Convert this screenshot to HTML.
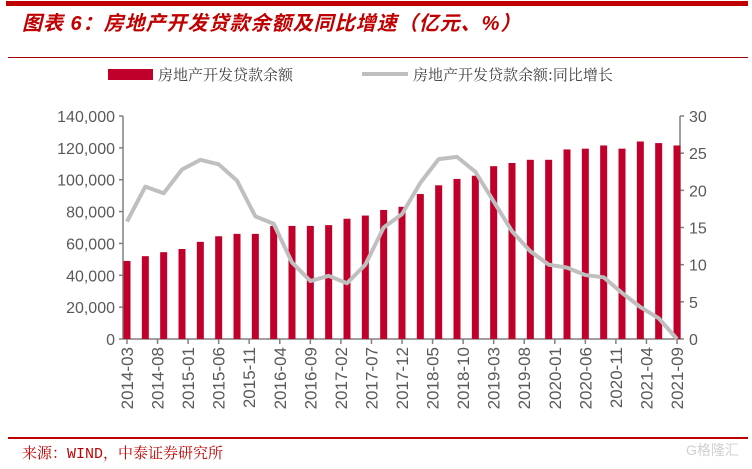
<!DOCTYPE html>
<html><head><meta charset="utf-8"><style>
body{margin:0;background:#fff;}
svg text{font-family:"Liberation Sans","Noto Sans CJK SC",sans-serif;}
</style></head><body>
<svg id="chart" width="752" height="464" viewBox="0 0 752 464" xmlns="http://www.w3.org/2000/svg">
<rect x="6" y="1" width="742" height="5" fill="#c00000"/>
<text x="22" y="30" font-size="20" font-weight="bold" font-style="italic" fill="#c00000" letter-spacing="1" style="font-family:'Liberation Sans','Noto Sans CJK SC',sans-serif">图表 6：房地产开发贷款余额及同比增速（亿元、%）</text>
<rect x="8" y="57" width="740" height="1" fill="#a00000"/>
<rect x="108" y="69" width="45" height="11" fill="#c0002a"/>
<text x="158" y="80" font-size="15" fill="#404040" style="font-family:'Noto Serif CJK SC',serif">房地产开发贷款余额</text>
<rect x="362" y="72" width="46" height="4" fill="#bfbfbf"/>
<text x="413" y="80" font-size="15" fill="#404040" style="font-family:'Noto Serif CJK SC',serif">房地产开发贷款余额:同比增长</text>
<g id="plot"></g>
<rect x="8" y="437" width="740" height="2" fill="#c00000"/>
<text x="22" y="458" font-size="15" fill="#c00000" style="font-family:'Liberation Mono','Noto Serif CJK SC',serif">来源：WIND，中泰证券研究所</text>
<text x="686" y="455" font-size="14" fill="#d0d0d0">G格隆汇</text>
</svg>
<script>
const categories=["2014-03","2014-06","2014-09","2014-12","2015-03","2015-06","2015-09","2015-12","2016-03","2016-06","2016-09","2016-12","2017-03","2017-06","2017-09","2017-12","2018-03","2018-06","2018-09","2018-12","2019-03","2019-06","2019-09","2019-12","2020-03","2020-06","2020-09","2020-12","2021-03","2021-06","2021-09"];
const balance=[49000,52000,54500,56500,61000,64500,66000,66000,71000,71000,71000,71500,75500,77500,81000,83000,91000,96500,100500,102500,108500,110500,112500,112500,119000,119500,121500,119500,124000,123000,121500];
const growth=[15.8,20.5,19.6,22.8,24.1,23.5,21.3,16.5,15.5,10.3,7.8,8.5,7.5,10,15,16.8,21,24.2,24.5,22.5,18.5,14.5,11.8,10,9.6,8.6,8.3,6.2,4.3,2.8,0];
const xLabels=["2014-03","2014-08","2015-01","2015-06","2015-11","2016-04","2016-09","2017-02","2017-07","2017-12","2018-05","2018-10","2019-03","2019-08","2020-01","2020-06","2020-11","2021-04","2021-09"];
const leftTicks=[0,20000,40000,60000,80000,100000,120000,140000];
const rightTicks=[0,5,10,15,20,25,30];
const NS="http://www.w3.org/2000/svg";
const g=document.getElementById('plot');
const X0=127,X1=677,Y0=339,Y1=116,LX=123,RX=680;
const xi=i=>X0+(X1-X0)*i/(categories.length-1);
const yl=v=>Y0-(Y0-Y1)*v/140000;
const yr=v=>Y0-(Y0-Y1)*v/30;
function mk(t,a){const e=document.createElementNS(NS,t);for(const k in a)e.setAttribute(k,a[k]);g.appendChild(e);return e;}
let e=mk('line',{x1:LX,y1:Y1,x2:LX,y2:Y0,stroke:'#808080','stroke-width':1.5});


e=mk('line',{x1:RX,y1:Y1,x2:RX,y2:Y0,stroke:'#808080','stroke-width':1.5});


e=mk('line',{x1:LX,y1:Y0,x2:RX,y2:Y0,stroke:'#808080','stroke-width':1.5});


leftTicks.forEach(v=>{
 mk('line',{x1:LX-4,y1:yl(v),x2:LX,y2:yl(v),stroke:'#808080','stroke-width':1.5});
 const t=mk('text',{x:LX-8,y:yl(v)+6,'font-size':16,'text-anchor':'end',fill:'#595959'});t.textContent=v.toLocaleString('en-US');
 
 
});
rightTicks.forEach(v=>{
 mk('line',{x1:RX,y1:yr(v),x2:RX+4,y2:yr(v),stroke:'#808080','stroke-width':1.5});
 const t=mk('text',{x:RX+9,y:yr(v)+6,'font-size':16,fill:'#595959'});t.textContent=v;
 
 
});
balance.forEach((v,i)=>{
 const r=mk('rect',{x:xi(i)-3.5,y:yl(v),width:7,height:Y0-yl(v),fill:'#c0002a'});
 
 
});
const pts=growth.map((v,i)=>xi(i)+','+yr(v)).join(' ');
const pl=mk('polyline',{points:pts,fill:'none',stroke:'#bfbfbf','stroke-width':4,'stroke-linejoin':'round'});


xLabels.forEach((s,i)=>{
 const x=X0+(X1-X0)*i/(xLabels.length-1);
 mk('line',{x1:x,y1:Y0,x2:x,y2:Y0+5,stroke:'#808080','stroke-width':1.5});
 const t=mk('text',{x:x+6,y:Y0+8,'font-size':17,'text-anchor':'end',fill:'#595959',transform:`rotate(-90 ${x+6} ${Y0+8})`});
 t.textContent=s;
 
 
});
</script>
</body></html>
